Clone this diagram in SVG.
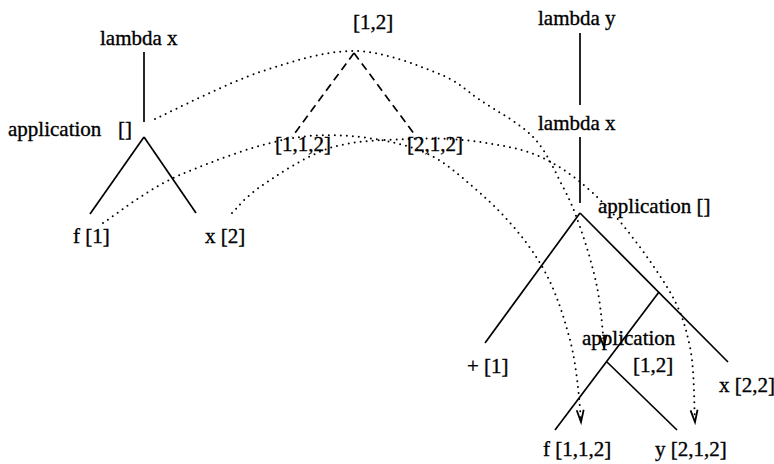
<svg xmlns="http://www.w3.org/2000/svg" width="774" height="464" viewBox="0 0 774 464">
<style>
text{font-family:"Liberation Serif","Times New Roman",serif;font-size:21px;fill:#000;stroke:#000;stroke-width:0.35}
.e{stroke:#000;stroke-width:1.7;fill:none}
.d{stroke:#000;stroke-width:1.7;fill:none;stroke-dasharray:8 5}
.dot{stroke:#000;stroke-width:2;fill:none;stroke-dasharray:0 6;stroke-linecap:round}
</style>
<defs>
<marker id="ah" markerUnits="userSpaceOnUse" markerWidth="16" markerHeight="10" refX="0" refY="0" orient="auto" overflow="visible" viewBox="-14 -5 16 10">
<path d="M-12,-3.5 L0,0 L-12,3.5" fill="none" stroke="#000" stroke-width="1.8"/>
</marker>
</defs>
<rect width="774" height="464" fill="#fff"/>
<g id="connectors">
<line class="e" x1="144" y1="52" x2="144" y2="122"/>
<line class="e" x1="144" y1="137" x2="90" y2="214"/>
<line class="e" x1="144" y1="137" x2="196" y2="213"/>
<line class="d" x1="354" y1="53" x2="292" y2="137"/>
<line class="d" x1="354" y1="53" x2="415" y2="135"/>
<line class="e" x1="580" y1="33" x2="580" y2="105"/>
<line class="e" x1="580" y1="137" x2="580" y2="203"/>
<line class="e" x1="580" y1="213" x2="485" y2="343"/>
<line class="e" x1="580" y1="213" x2="728" y2="362"/>
<line class="e" x1="659" y1="292" x2="555" y2="430"/>
<line class="e" x1="607" y1="362" x2="677" y2="430"/>
<path class="dot" marker-end="url(#ah)" d="M155,119 C172.5,111 227,83 260,72 C293,61 324.5,51 354,51 C383.5,51 416,65 437,73 C458,81 464,89 480,100 C496,111 519,122.5 533,137 C547,151.5 555,172 563,187 C571,202 574,210 580,227 C586,244 593,267 597,287 C601,306 603,335 604,347"/>
<path class="dot" marker-end="url(#ah)" d="M103,223 C116,215 147,189 180,175 C213,161 262,142 300,137 C338,132 380,138 410,147 C440,156 458,174 480,193 C502,212 525,238 540,263 C555,288 563,314 570,340 C577,366 580,407 581,422"/>
<path class="dot" marker-end="url(#ah)" d="M232,213 C236.7,208.7 244,198 260,187 C276,176 305,156 330,148 C355,140 385,140 410,139 C435,138 457,138.5 480,142 C503,145.5 526,149 547,160 C568,171 587,186 607,207 C627,228 653,264 667,287 C681,310 685,324.5 690,347 C694.7,369.5 694,409.5 695,422"/>
</g>
<g id="n-lambda-x-left"><text x="100" y="45">lambda x</text></g>
<g id="n-app-left"><text x="8" y="136">application <tspan x="118">[]</tspan></text></g>
<g id="n-f1"><text x="73" y="243">f [1]</text></g>
<g id="n-x2"><text x="205" y="243">x [2]</text></g>
<g id="n-12-top"><text x="353" y="29">[1,2]</text></g>
<g id="n-112"><text x="275" y="151">[1,1,2]</text></g>
<g id="n-212"><text x="407" y="151">[2,1,2]</text></g>
<g id="n-lambda-y"><text x="538" y="25">lambda y</text></g>
<g id="n-lambda-x-right"><text x="538" y="130">lambda x</text></g>
<g id="n-app-right"><text x="598" y="213">application []</text></g>
<g id="n-plus1"><text x="467" y="373">+ [1]</text></g>
<g id="n-app-inner"><text x="582" y="345">application</text><text x="633" y="372">[1,2]</text></g>
<g id="n-x22"><text x="719" y="392">x [2,2]</text></g>
<g id="n-f112"><text x="543" y="456">f [1,1,2]</text></g>
<g id="n-y212"><text x="655" y="456">y [2,1,2]</text></g>
</svg>
